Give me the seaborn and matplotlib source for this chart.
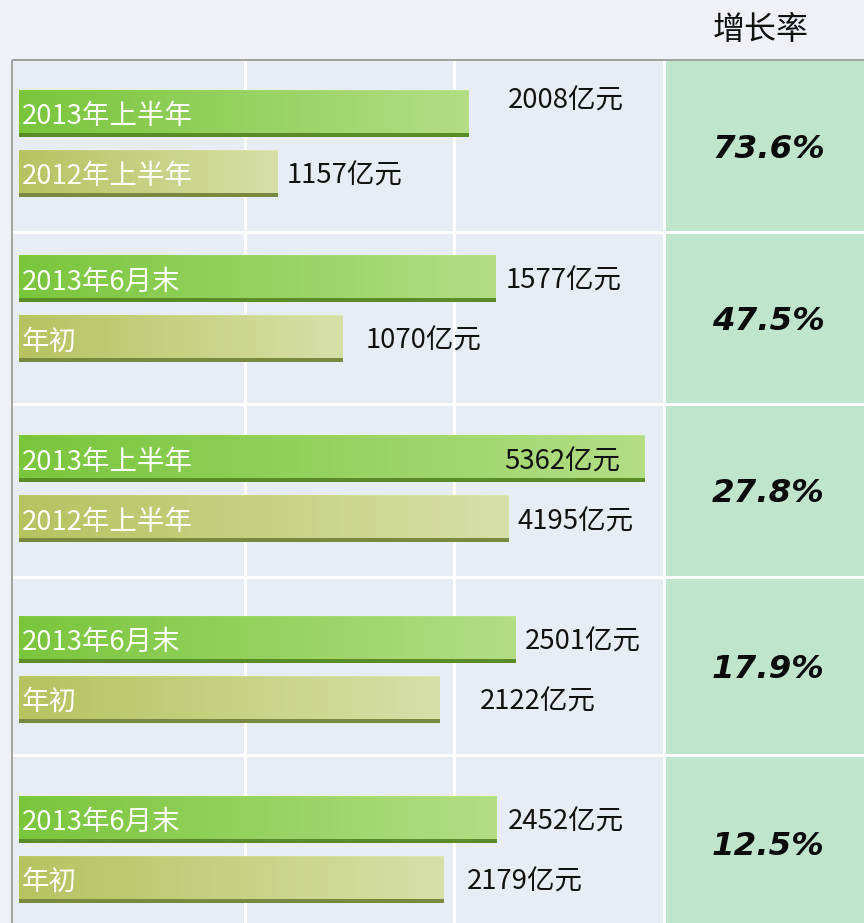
import numpy as np
import matplotlib
matplotlib.use("Agg")
import matplotlib.pyplot as plt
import matplotlib.colors as mcolors
from matplotlib.patches import Rectangle
import seaborn as sns
import pandas as pd

# ---------------- data ----------------
current_labels = ["2013年上半年", "2013年6月末", "2013年上半年", "2013年6月末", "2013年6月末"]
previous_labels = ["2012年上半年", "年初", "2012年上半年", "年初", "年初"]
current_values = [2008, 1577, 5362, 2501, 2452]
previous_values = [1157, 1070, 4195, 2122, 2179]
growth_rates = [73.6, 47.5, 27.8, 17.9, 12.5]
unit = "亿元"
header = "增长率"

# ---------------- layout / style ----------------
W, H, DPI = 864, 923, 100
PX = 72.0 / DPI  # points per pixel
row_tops = [60, 232, 404, 577, 755]
row_bots = [232, 404, 577, 755, 931]
bar_centers = [113.5, 278.5, 459, 639, 819]
bar_pitch = 60
bar_h = 47
x_spans = [2918, 2163, 5600, 3292, 3351]  # data units spanning the panel width per group
panel_l, panel_r = 12, 665
col_l = 664
bar_start = 19
# value label offsets (px) relative to bar end: (dx, dy, ha)
val_off = [[(40, -12, "left"), (9, 3, "left")],
           [(11, 3, "left"), (24, 3, "left")],
           [(-24, 3, "right"), (9, 3, "left")],
           [(10, 3, "left"), (40, 3, "left")],
           [(11, 3, "left"), (23, 3, "left")]]

fig_bg = "#eef2f8"
panel_bg = "#e8ecf4"
col_bg = "#bfe5cc"
border = "#a3a3a3"
cur_grad = ("#79c63c", "#b3de85", "#5a8c28")
prev_grad = ("#b6c35f", "#d7e0a8", "#7a8940")
CJK = ["Noto Sans CJK SC", "DejaVu Sans"]

sns.set_theme(style="white")
plt.rcParams["font.family"] = CJK

fig = plt.figure(figsize=(W / DPI, H / DPI), dpi=DPI, facecolor=fig_bg)

# background axes in pixel coordinates
bg = fig.add_axes([0, 0, 1, 1])
bg.set_xlim(0, W)
bg.set_ylim(H, 0)
bg.axis("off")
bg.add_patch(Rectangle((panel_l, 60), panel_r - panel_l, H - 60, color=panel_bg, lw=0))
bg.add_patch(Rectangle((col_l, 60), W - col_l, H - 60, color=col_bg, lw=0))
for xv in [244.5, 453.5, 664]:
    bg.plot([xv, xv], [60, H], color="white", lw=3 * PX, solid_capstyle="butt")
for yv in row_tops[1:]:
    bg.plot([panel_l, W], [yv, yv], color="white", lw=3 * PX, solid_capstyle="butt")
bg.plot([panel_l, W], [60, 60], color=border, lw=2 * PX, solid_capstyle="butt")
bg.plot([panel_l, panel_l], [60, H], color=border, lw=2 * PX, solid_capstyle="butt")
bg.text(761, 30, header, ha="center", va="center", fontsize=32 * PX, color="#111111")

for i, g in enumerate(growth_rates):
    yc = (row_tops[i] + row_bots[i]) / 2 + 3.5
    bg.text(768.5, yc, f"{g:.1f}%", ha="center", va="center", fontsize=32.5 * PX,
            fontweight="bold", style="italic", family="DejaVu Sans", color="#0a0a0a")


def gradient_img(c_left, c_right, c_dark, nrow=47, ncol=256, dark_rows=4):
    a = np.array(mcolors.to_rgb(c_left))
    b = np.array(mcolors.to_rgb(c_right))
    t = np.linspace(0, 1, ncol)[None, :, None]
    img = np.repeat(a + (b - a) * t, nrow, axis=0)
    img[-dark_rows:, :, :] = mcolors.to_rgb(c_dark)
    img[0, :, :] = np.clip(img[0, :, :] * 1.03, 0, 1)
    return img


for i in range(5):
    rt, rb = row_tops[i], row_bots[i]
    ax = fig.add_axes([panel_l / W, 1 - rb / H, (panel_r - panel_l) / W, (rb - rt) / H])
    ax.patch.set_alpha(0)
    df = pd.DataFrame({"label": [current_labels[i], previous_labels[i]],
                       "value": [current_values[i], previous_values[i]]})
    sns.barplot(data=df, x="value", y="label", orient="h", width=bar_h / bar_pitch,
                color="#7ac943", ax=ax)
    patches = list(ax.patches)
    grads = [cur_grad, prev_grad]
    for k, p in enumerate(patches):
        x0, w = p.get_x(), p.get_width()
        y0, h = p.get_y(), p.get_height()
        img = gradient_img(*grads[k])
        ax.imshow(img, extent=(x0, x0 + w, y0 + h, y0), origin="upper", aspect="auto",
                  zorder=2, interpolation="bilinear")
        p.set_visible(False)
        yc = y0 + h / 2
        lab = df["label"][k]
        ax.annotate(lab, xy=(0, yc), xytext=(3 * PX, -3.5 * PX), textcoords="offset points",
                    ha="left", va="center", color="white", fontsize=27.5 * PX, zorder=3)
        v = df["value"][k]
        dx, dy, ha = val_off[i][k]
        ax.annotate(f"{v}{unit}", xy=(x0 + w, yc), xytext=(dx * PX, -dy * PX),
                    textcoords="offset points", ha=ha, va="center", color="#111111",
                    fontsize=27.5 * PX, zorder=3)
    span = x_spans[i]
    xmin = -(bar_start - panel_l) / (panel_r - panel_l) * span
    ax.set_xlim(xmin, xmin + span)
    top = -(bar_centers[i] - rt) / bar_pitch
    bottom = (rb - bar_centers[i]) / bar_pitch
    ax.set_ylim(bottom, top)
    ax.axis("off")

fig.savefig("out.png", dpi=DPI, facecolor=fig_bg)
